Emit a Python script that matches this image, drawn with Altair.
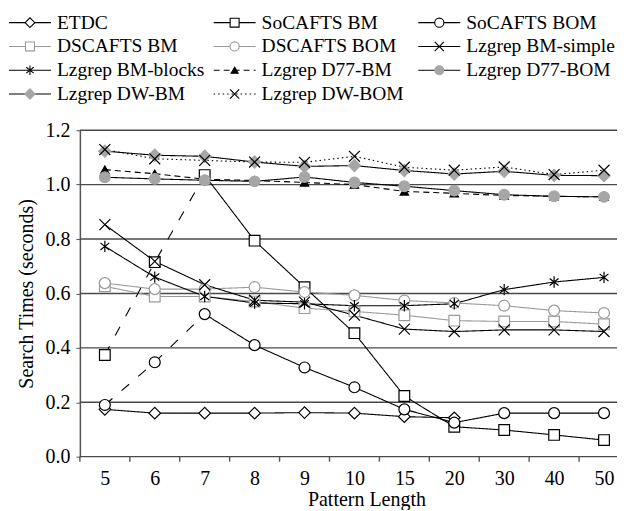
import json
import altair as alt
import pandas as pd

# ---------------- data ----------------
x_labels = ["5", "6", "7", "8", "9", "10", "15", "20", "30", "40", "50"]
y_ticks = [0.0, 0.2, 0.4, 0.6, 0.8, 1.0, 1.2]

series_names = [
    "ETDC", "SoCAFTS BM", "SoCAFTS BOM",
    "DSCAFTS BM", "DSCAFTS BOM", "Lzgrep BM-simple",
    "Lzgrep BM-blocks", "Lzgrep D77-BM", "Lzgrep D77-BOM",
    "Lzgrep DW-BM", "Lzgrep DW-BOM",
]

etdc = [0.174, 0.160, 0.160, 0.160, 0.162, 0.160, 0.147, 0.143]
socafts_bm = [0.374, 0.715, 1.035, 0.794, 0.623, 0.454, 0.223, 0.110, 0.098, 0.080, 0.061]
socafts_bom = [0.190, 0.347, 0.524, 0.410, 0.328, 0.255, 0.174, 0.125, 0.160, 0.160, 0.160]
dscafts_bm = [0.626, 0.589, 0.589, 0.570, 0.546, 0.534, 0.520, 0.500, 0.497, 0.497, 0.487]
dscafts_bom = [0.638, 0.616, 0.616, 0.623, 0.605, 0.593, 0.574, 0.565, 0.555, 0.537, 0.528]
bm_simple = [0.853, 0.718, 0.632, 0.575, 0.568, 0.520, 0.469, 0.460, 0.466, 0.466, 0.460]
bm_blocks = [0.773, 0.660, 0.589, 0.565, 0.562, 0.555, 0.555, 0.562, 0.614, 0.642, 0.659]
d77_bm = [1.055, 1.040, 1.020, 1.015, 1.008, 1.000, 0.975, 0.968, 0.960, 0.957, 0.955]
d77_bom = [1.027, 1.021, 1.016, 1.012, 1.028, 1.008, 0.994, 0.978, 0.963, 0.957, 0.955]
dw_bm = [1.123, 1.108, 1.104, 1.083, 1.067, 1.070, 1.052, 1.039, 1.049, 1.034, 1.033]
dw_bom = [1.129, 1.095, 1.089, 1.083, 1.082, 1.104, 1.064, 1.053, 1.065, 1.037, 1.053]

series_values = [etdc, socafts_bm, socafts_bom, dscafts_bm, dscafts_bom,
                 bm_simple, bm_blocks, d77_bm, d77_bom, dw_bm, dw_bom]

# ---------------- styles ----------------
FONT = "Liberation Serif"
FS = 20
LFS = 19.5
GRAY = "#9a9a9a"
AXC = "#555555"
XPATH = "M-1,-1L1,1M-1,1L1,-1"
STAR = "M0,-1L0,1M-0.78,-0.62L0.78,0.62M-0.78,0.62L0.78,-0.62"

styles = {
    "ETDC":             dict(shape="diamond", fill="white", stroke="black", lc="black", dash="solid", size=135),
    "SoCAFTS BM":       dict(shape="square", fill="white", stroke="black", lc="black", dash="solid", size=115, lead="long"),
    "SoCAFTS BOM":      dict(shape="circle", fill="white", stroke="black", lc="black", dash="solid", size=120, lead="long"),
    "DSCAFTS BM":       dict(shape="square", fill="white", stroke=GRAY, lc=GRAY, dash="solid", size=115),
    "DSCAFTS BOM":      dict(shape="circle", fill="white", stroke=GRAY, lc=GRAY, dash="solid", size=120),
    "Lzgrep BM-simple": dict(shape=XPATH, fill="black", stroke="black", lc="black", dash="solid", size=120),
    "Lzgrep BM-blocks": dict(shape=STAR, fill="black", stroke="black", lc="black", dash="solid", size=130),
    "Lzgrep D77-BM":    dict(shape="triangle-up", fill="black", stroke="black", lc="black", dash="dash", size=70),
    "Lzgrep D77-BOM":   dict(shape="circle", fill="#a6a6a6", stroke="#a6a6a6", lc="black", dash="solid", size=115),
    "Lzgrep DW-BM":     dict(shape="diamond", fill="#a6a6a6", stroke="#a6a6a6", lc="black", dash="solid", size=150),
    "Lzgrep DW-BOM":    dict(shape=XPATH, fill="black", stroke="black", lc="black", dash="dot", size=120),
}
dash_arrays = {"solid": [1, 0], "dash": [6, 4], "dot": [1.5, 3], "long": [10, 12]}

# ---------------- tables ----------------
line_rows, point_rows = [], []
for k, (name, vals) in enumerate(zip(series_names, series_values)):
    st = styles[name]
    for i, v in enumerate(vals):
        point_rows.append(dict(series=name, k=k, xi=i, y=v, shape=st["shape"],
                               fill=st["fill"], stroke=st["stroke"], size=st["size"]))
        if "lead" in st:
            if i <= 2:
                line_rows.append(dict(seg=name + "|lead", xi=i, y=v, lc=st["lc"], dash=st["lead"]))
            if i >= 2:
                line_rows.append(dict(seg=name + "|main", xi=i, y=v, lc=st["lc"], dash=st["dash"]))
        else:
            line_rows.append(dict(seg=name, xi=i, y=v, lc=st["lc"], dash=st["dash"]))

lines_df = pd.DataFrame(line_rows)
points_df = pd.DataFrame(point_rows)
cat_df = pd.DataFrame({"xi": list(range(len(x_labels)))})
grid_df = pd.DataFrame({"y": y_ticks})

W, H = 538, 327
STEP = 50.0  # pixels per category
n = len(x_labels)

xscale = alt.Scale(domain=[-0.5, -0.5 + W / STEP], nice=False, zero=False)
xaxis = alt.Axis(title="Pattern Length", values=list(range(n)),
                 labelExpr="%s[datum.value]" % json.dumps(x_labels),
                 ticks=False, labelPadding=12, titlePadding=1, grid=False, domain=False,
                 titleX=287)
xenc = alt.X("xi:Q", scale=xscale, axis=xaxis)
yscale = alt.Scale(domain=[0, 1.2], nice=False, zero=True)
yaxis = alt.Axis(title="Search Times (seconds)", values=y_ticks,
                 format=".1f", grid=False,
                 domainColor=AXC, domainWidth=1.5, tickColor=AXC, tickSize=4,
                 labelPadding=6, titlePadding=8)
yenc = alt.Y("y:Q", scale=yscale, axis=yaxis)

# horizontal grid lines spanning the plot width
grid = alt.Chart(grid_df).mark_rule(color="#4a4a4a", strokeWidth=1.4).encode(
    y=yenc, x=alt.value(0), x2=alt.value(W)
)

# tick marks between categories
xticks = alt.Chart(cat_df).transform_calculate(edge="datum.xi - 0.5").mark_rule(
    color=AXC, strokeWidth=1.4
).encode(x=alt.X("edge:Q", scale=xscale, axis=xaxis), y=alt.value(H), y2=alt.value(H + 5))

line_layers = []
for d, arr in dash_arrays.items():
    line_layers.append(
        alt.Chart(lines_df).transform_filter(alt.datum.dash == d)
        .mark_line(strokeWidth=1.1, strokeDash=arr)
        .encode(x=xenc, y=yenc, detail="seg:N", order="xi:Q",
                color=alt.Color("lc:N", scale=None))
    )

points = alt.Chart(points_df).mark_point(filled=True, opacity=1, strokeWidth=1.2).encode(
    x=xenc, y=yenc,
    shape=alt.Shape("shape:N", scale=None),
    fill=alt.Fill("fill:N", scale=None),
    stroke=alt.Stroke("stroke:N", scale=None),
    size=alt.Size("size:Q", scale=None),
    order=alt.Order("k:Q"),
)

plot = alt.layer(grid, xticks, *line_layers, points).properties(width=W, height=H)

# ---------------- legend (built from the same styles) ----------------
leg_rows = []
for k, name in enumerate(series_names):
    st = styles[name]
    leg_rows.append(dict(series=name, col=k % 3, row=k // 3, lc=st["lc"], dash=st["dash"],
                         shape=st["shape"], fill=st["fill"], stroke=st["stroke"],
                         size=st["size"] * 0.7))
leg_df = pd.DataFrame(leg_rows)

COL0, COLW = -71, 205
base = alt.Chart(leg_df).transform_calculate(
    x0="%d + datum.col * %d" % (COL0, COLW),
    x1="%d + datum.col * %d + 42" % (COL0, COLW),
    xm="%d + datum.col * %d + 21" % (COL0, COLW),
    xt="%d + datum.col * %d + 48" % (COL0, COLW),
)
lx = alt.Scale(domain=[0, W], nice=False, zero=False)
ly = alt.Scale(domain=[-0.6, 3.6], nice=False, zero=False, reverse=True)

leg_lines = []
for d, arr in dash_arrays.items():
    leg_lines.append(
        base.transform_filter(alt.datum.dash == d)
        .mark_rule(strokeWidth=1.1, strokeDash=arr)
        .encode(x=alt.X("x0:Q", scale=lx, axis=None), x2="x1:Q",
                y=alt.Y("row:Q", scale=ly, axis=None),
                color=alt.Color("lc:N", scale=None))
    )
leg_pts = base.mark_point(filled=True, opacity=1, strokeWidth=1.1).encode(
    x=alt.X("xm:Q", scale=lx, axis=None), y=alt.Y("row:Q", scale=ly, axis=None),
    shape=alt.Shape("shape:N", scale=None), fill=alt.Fill("fill:N", scale=None),
    stroke=alt.Stroke("stroke:N", scale=None), size=alt.Size("size:Q", scale=None),
)
leg_txt = base.mark_text(align="left", baseline="middle", font=FONT, fontSize=LFS, color="black").encode(
    x=alt.X("xt:Q", scale=lx, axis=None), y=alt.Y("row:Q", scale=ly, axis=None),
    text="series:N",
)
legend = alt.layer(*leg_lines, leg_pts, leg_txt).properties(width=W, height=100)

chart = alt.vconcat(legend, plot, spacing=12).properties(padding=0).configure_view(
    stroke=None
).configure_axis(
    labelFont=FONT, titleFont=FONT, labelFontSize=FS, titleFontSize=FS,
    labelColor="black", titleColor="black", titleFontWeight="normal",
)

chart.save("out.html", embed_options={"renderer": "svg", "actions": False})
